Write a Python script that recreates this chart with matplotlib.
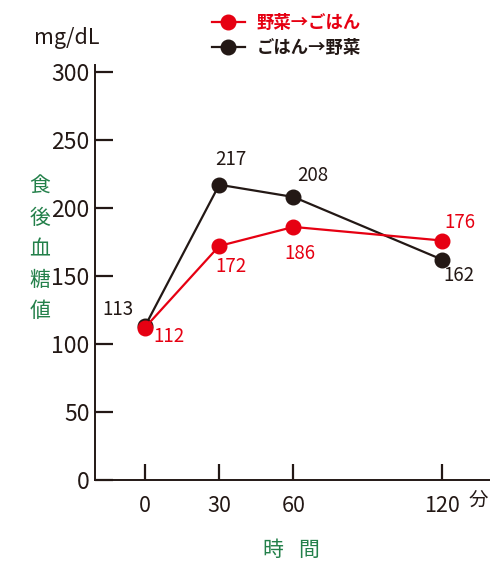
import matplotlib
matplotlib.use("Agg")
import matplotlib.pyplot as plt

plt.rcParams['font.family'] = ['Noto Sans CJK JP', 'DejaVu Sans']

# Blood glucose after meals (mg/dL) at minutes after eating
minutes = [0, 30, 60, 120]
veg_first = [112, 172, 186, 176]    # 野菜→ごはん
rice_first = [113, 217, 208, 162]   # ごはん→野菜
y_ticks = [0, 50, 100, 150, 200, 250, 300]

RED = '#e60012'
BLACK = '#231815'
GREEN = '#23804a'

fig = plt.figure(figsize=(4.9, 5.62), dpi=100)
ax = fig.add_axes([95 / 490, 1 - 480 / 562, 1 - 95 / 490, (480 - 65) / 562])
ax.set_xlim(-20.2, 139.4)
ax.set_ylim(0, 305)

ax.plot(minutes, rice_first, color=BLACK, lw=1.6, marker='o', ms=10.5, zorder=3,
        label='ごはん→野菜')
ax.plot(minutes, veg_first, color=RED, lw=1.6, marker='o', ms=10.5, zorder=4,
        label='野菜→ごはん')

for sp in ['top', 'right']:
    ax.spines[sp].set_visible(False)
for sp in ['left', 'bottom']:
    ax.spines[sp].set_color(BLACK)
    ax.spines[sp].set_linewidth(1.4)

ax.set_yticks(y_ticks)
ax.set_xticks(minutes)
ax.tick_params(axis='y', direction='in', length=13, width=1.6, color=BLACK,
               labelsize=16.5, labelcolor=BLACK, pad=4)
ax.tick_params(axis='x', direction='in', length=11.5, width=1.6, color=BLACK,
               labelsize=15.5, labelcolor=BLACK, pad=11)

# value labels
black_offsets = [(-27, 17), (12, 25), (19, 21), (17, -16)]
red_offsets = [(24, -9), (12, -21), (6, -27), (18, 18)]
for x, v, off in zip(minutes, rice_first, black_offsets):
    ax.annotate(str(v), (x, v), xytext=off, textcoords='offset pixels',
                ha='center', va='center', fontsize=13.5, color=BLACK)
for x, v, off in zip(minutes, veg_first, red_offsets):
    ax.annotate(str(v), (x, v), xytext=off, textcoords='offset pixels',
                ha='center', va='center', fontsize=13.5, color=RED)

# units and axis titles
fig.text(67 / 490, 1 - 38 / 562, 'mg/dL', ha='center', va='center',
         fontsize=15.5, color=BLACK)
fig.text(478 / 490, 1 - 500 / 562, '分', ha='center', va='center',
         fontsize=14, color=BLACK)
fig.text(273 / 490, 1 - 550 / 562, '時', ha='center', va='center',
         fontsize=15, color=GREEN)
fig.text(309 / 490, 1 - 550 / 562, '間', ha='center', va='center',
         fontsize=15, color=GREEN)
fig.text(40 / 490, 1 - 249 / 562, '\n'.join('食後血糖値'), ha='center',
         va='center', fontsize=15, color=GREEN, linespacing=1.53)

# legend
handles, labels = ax.get_legend_handles_labels()
leg = fig.legend(handles[::-1], labels[::-1], loc='upper left',
                 bbox_to_anchor=(203 / 490, 1 - 5 / 562), frameon=False,
                 prop={'size': 12.5, 'weight': 'bold'}, handlelength=1.9,
                 handletextpad=0.7, labelspacing=0.45, borderpad=0)
for text, col in zip(leg.get_texts(), [RED, BLACK]):
    text.set_color(col)

fig.savefig('out.png', dpi=100)
